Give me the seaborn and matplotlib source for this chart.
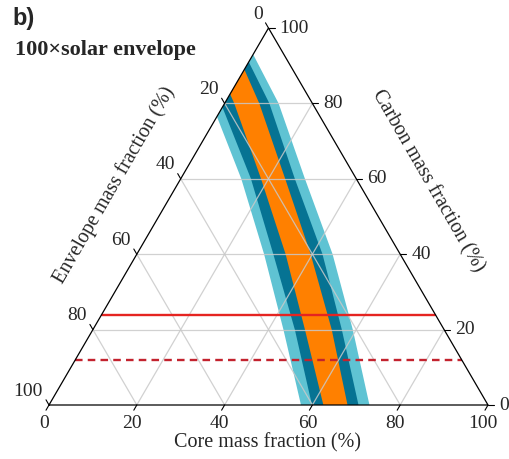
import numpy as np
import matplotlib
matplotlib.use("Agg")
import matplotlib.pyplot as plt
import seaborn as sns

# Ternary plot: core (bottom), carbon (right), envelope (left) mass fractions in %.
ticks = [0, 20, 40, 60, 80, 100]
grid_levels = [20, 40, 60, 80]

# Band boundaries: core mass fraction at given carbon mass fraction.
# Each boundary runs from the bottom edge up to where it meets core = 0.
lb_left_carbon = [0, 20, 40, 60, 76.5]
lb_left_core = [57.4, 43.4, 29.0, 13.8, 0.0]
db_left_carbon = [0, 20, 40, 60, 79]
db_left_core = [59.9, 46.0, 31.1, 16.0, 0.0]
or_left_carbon = [0, 20, 40, 60, 80, 82.5]
or_left_core = [62.5, 48.3, 33.9, 18.3, 2.2, 0.0]
or_right_carbon = [0, 20, 40, 60, 80, 89]
or_right_core = [68.0, 54.4, 39.6, 23.8, 7.9, 0.0]
db_right_carbon = [0, 20, 40, 60, 80, 91]
db_right_core = [70.5, 56.7, 42.3, 26.0, 10.2, 0.0]
lb_right_carbon = [0, 20, 40, 60, 80, 93]
lb_right_core = [73.0, 59.2, 44.6, 28.3, 12.3, 0.0]

# Constant-carbon reference lines
carbon_solid = 24
carbon_dashed = 12

COLOR_LIGHT = "#5fc3d3"
COLOR_DARK = "#067393"
COLOR_ORANGE = "#ff8000"
COLOR_RED = "#e52421"
COLOR_RED_DASH = "#c3222e"
GRID = "#c9c9c9"

H = np.sqrt(3) / 2


def tern(core, carbon):
    core = np.asarray(core, dtype=float)
    carbon = np.asarray(carbon, dtype=float)
    return core + carbon / 2.0, carbon * H


sns.set_theme(style="white")
plt.rcParams["font.family"] = ["Liberation Serif", "DejaVu Serif"]

W, Hpx = 509, 459
fig = plt.figure(figsize=(W / 100, Hpx / 100), dpi=100)
ax = fig.add_axes([0, 0, 1, 1])
sx = 4.39   # px per x unit
sy = 4.353  # px per y unit
x0_px, y0_px = 49, 405
ax.set_xlim(-x0_px / sx, (W - x0_px) / sx)
ax.set_ylim(-(Hpx - y0_px) / sy, y0_px / sy)
ax.axis("off")

tri_x, tri_y = tern([0, 100, 0, 0], [0, 0, 100, 0])
clip_poly = plt.Polygon(np.column_stack([tri_x, tri_y]), closed=True,
                        transform=ax.transData, facecolor="none", edgecolor="none")
ax.add_patch(clip_poly)


def band(lc, lk, rc, rk, color, z):
    xl, yl = tern(lc, lk)
    xr, yr = tern(rc, rk)
    xs = np.concatenate([xl, xr[::-1]])
    ys = np.concatenate([yl, yr[::-1]])
    p = ax.fill(xs, ys, color=color, lw=0, zorder=z)[0]
    p.set_clip_path(clip_poly)


band(lb_left_core, lb_left_carbon, lb_right_core, lb_right_carbon, COLOR_LIGHT, 1)
band(db_left_core, db_left_carbon, db_right_core, db_right_carbon, COLOR_DARK, 2)
band(or_left_core, or_left_carbon, or_right_core, or_right_carbon, COLOR_ORANGE, 3)

# Grid lines
for v in grid_levels:
    for (c1, k1, c2, k2) in [(0, v, 100 - v, v),        # constant carbon
                             (v, 0, v, 100 - v),        # constant core
                             (100 - v, 0, 0, 100 - v)]:  # constant envelope
        gx, gy = tern([c1, c2], [k1, k2])
        ax.plot(gx, gy, color=GRID, lw=0.9, alpha=0.85, zorder=4)

# Reference lines
for kv, col, ls in [(carbon_solid, COLOR_RED, "-"), (carbon_dashed, COLOR_RED_DASH, (0, (3.2, 2.2)))]:
    lx, ly = tern([0, 100 - kv], [kv, kv])
    sns.lineplot(x=lx, y=ly, ax=ax, color=col, lw=1.7, linestyle=ls, zorder=5,
                 legend=False, sort=False)

# Triangle outline
ax.plot(tri_x, tri_y, color="black", lw=0.9, zorder=6, solid_joinstyle="miter")

# Ticks and tick labels
tl = 6.0
fs = 14
for t in ticks:
    # bottom: core
    bx, by = tern(t, 0)
    ax.plot([bx, bx - 0.5 * tl / sx], [by, by - H * tl / sy], color="black", lw=0.8, zorder=6)
    ax.text(bx - 5 / sx, by - 18 / sy, f"{t}", ha="center", va="center", fontsize=fs)
    # right: carbon
    rx, ry = tern(100 - t, t)
    ax.plot([rx, rx + tl / sx], [ry, ry], color="black", lw=0.8, zorder=6)
    ax.text(rx + 11 / sx, ry, f"{t}", ha="left", va="center", fontsize=fs)
    # left: envelope
    lx_, ly_ = tern(0, 100 - t)
    ax.plot([lx_, lx_ - 0.5 * tl / sx], [ly_, ly_ + H * tl / sy], color="black", lw=0.8, zorder=6)
    ax.text(lx_ - 6 / sx, ly_ + 14 / sy, f"{t}", ha="right", va="center", fontsize=fs)


def fpos(px, py):
    return px / W, 1 - py / Hpx


tfs = 14.5
fig.text(*fpos(268, 443), "Core mass fraction (%)", ha="center", va="center", fontsize=tfs)
fig.text(*fpos(428, 181), "Carbon mass fraction (%)", ha="center", va="center",
         fontsize=tfs, rotation=-60, rotation_mode="anchor")
fig.text(*fpos(114, 185), "Envelope mass fraction (%)", ha="center", va="center",
         fontsize=tfs, rotation=60, rotation_mode="anchor")
fig.text(*fpos(12, 19), "b)", ha="left", va="center", fontsize=17, fontweight="bold",
         family=["Liberation Sans", "DejaVu Sans"])
fig.text(*fpos(15, 50), "100×solar envelope", ha="left", va="center", fontsize=16,
         fontweight="bold")

fig.savefig("out.png", dpi=100)
